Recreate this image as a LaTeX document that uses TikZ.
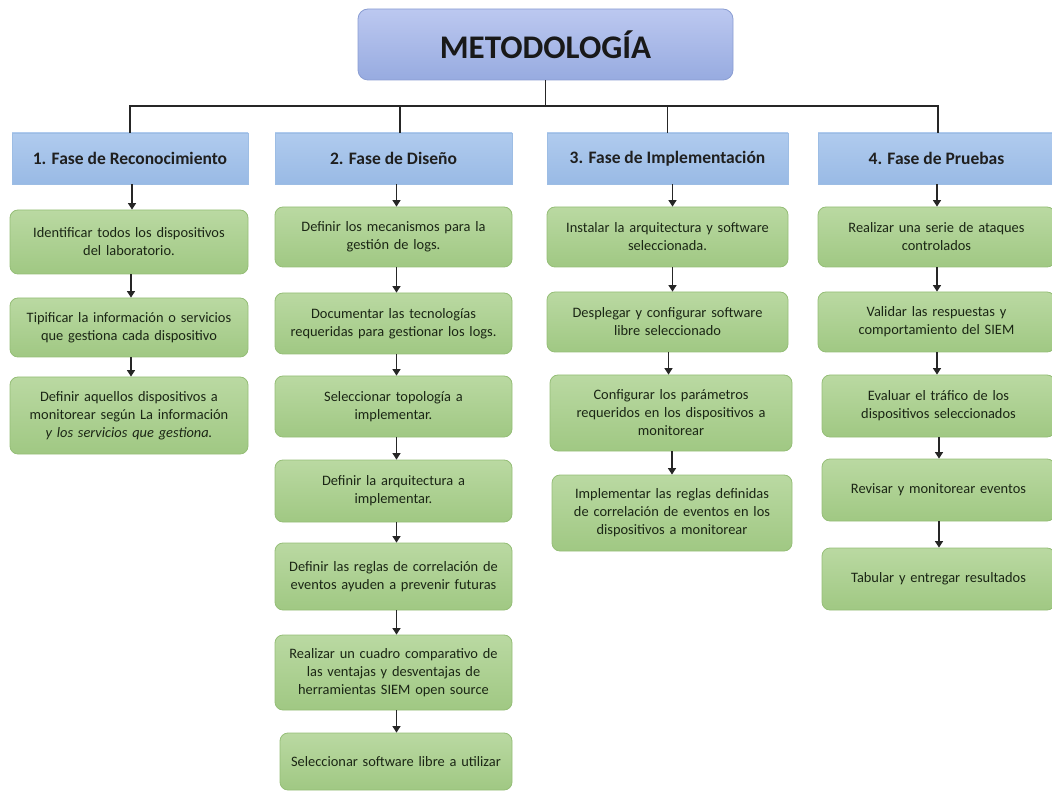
\documentclass[tikz,border=0pt]{standalone}
\usepackage{fontspec}
\setmainfont{Carlito}
\usetikzlibrary{arrows.meta,calc}

\definecolor{titletop}{HTML}{BCC8F0}
\definecolor{titlebot}{HTML}{97ABE0}
\definecolor{titleline}{HTML}{8A9DD2}
\definecolor{phasetop}{HTML}{B0CBEE}
\definecolor{phasebot}{HTML}{99BAE5}
\definecolor{phaseline}{HTML}{9DBDE4}
\definecolor{steptop}{HTML}{BAD9A2}
\definecolor{stepbot}{HTML}{A0C883}
\definecolor{stepline}{HTML}{95BE77}
\definecolor{steptext}{HTML}{1B2615}

\tikzset{
  titlebox/.style={rounded corners=10pt, draw=titleline, line width=0.8pt,
    top color=titletop, bottom color=titlebot,
    minimum width=375pt, minimum height=71pt,
    font=\fontsize{33}{38}\selectfont\bfseries, text=black!90},
  phasebox/.style={rectangle, draw=phaseline, line width=0.8pt,
    top color=phasetop, bottom color=phasebot,
    minimum height=51pt, font=\fontsize{17.5}{20}\selectfont\bfseries,
    text=black!88},
  stepbox/.style={rounded corners=8pt, draw=stepline, line width=0.8pt,
    top color=steptop, bottom color=stepbot, align=center,
    text width=#1-14pt, minimum width=#1,
    font=\fontsize{14.4}{18}\selectfont, text=steptext},
  stepbox/.default=238pt,
  link/.style={line width=1.6pt, black!85},
  flow/.style={line width=1.4pt, black!85,
    -{Triangle[length=6.5pt,width=8pt]}},
}

\begin{document}
\begin{tikzpicture}[x=1pt,y=1pt]
\useasboundingbox (0,0) rectangle (1052,-791);

% title
\node[titlebox] (title) at (545.5,-44.5) {METODOLOGÍA};

% phase headers
\node[phasebox, minimum width=236pt] (h1) at (130,-158.5) {1. Fase de Reconocimiento};
\node[phasebox, minimum width=237pt] (h2) at (393.5,-158.5) {2. Fase de Diseño};
\node[phasebox, minimum width=241pt] (h3) at (667.5,-158.5) {3. Fase de Implementación};
\node[phasebox, minimum width=237pt] (h4) at (936.5,-158.5) {4. Fase de Pruebas};

% tree connectors
\coordinate (bus) at (0,-106);
\draw[link] (title.south) -- (title.south |- bus);
\draw[link] (h1.north) |- ([xshift=1.5pt]h4.north |- bus) -- ([xshift=1.5pt]h4.north);
\draw[link] ([xshift=6.5pt]h2.north) -- ([xshift=6.5pt]h2.north |- bus);
\draw[link] (h3.north) -- (h3.north |- bus);

% column 1
\node[stepbox, minimum height=64pt] (a1) at (129,-242) {Identificar todos los dispositivos\\ del laboratorio.};
\node[stepbox, minimum height=59pt] (a2) at (129,-327.5) {Tipificar la información o servicios\\ que gestiona cada dispositivo};
\node[stepbox, minimum height=77pt] (a3) at (129,-415.5) {Definir aquellos dispositivos a\\ monitorear según La información\\ \textit{y los servicios que gestiona.}};

% column 2
\node[stepbox=237pt, minimum height=60pt] (b1) at (393.5,-237) {Definir los mecanismos para la\\ gestión de logs.};
\node[stepbox=237pt, minimum height=61pt] (b2) at (393.5,-323.5) {Documentar las tecnologías\\ requeridas para gestionar los logs.};
\node[stepbox=237pt, minimum height=61pt] (b3) at (393.5,-406.5) {Seleccionar topología a\\ implementar.};
\node[stepbox=237pt, minimum height=62pt] (b4) at (393.5,-491) {Definir la arquitectura a\\ implementar.};
\node[stepbox=237pt, minimum height=67pt] (b5) at (393.5,-576.5) {Definir las reglas de correlación de\\ eventos ayuden a prevenir futuras};
\node[stepbox=237pt, minimum height=75pt] (b6) at (393.5,-672.5) {Realizar un cuadro comparativo de\\ las ventajas y desventajas de\\ herramientas SIEM open source};
\node[stepbox=232pt, minimum height=57pt] (b7) at (396,-761.5) {Seleccionar software libre a utilizar};

% column 3
\node[stepbox=241pt, minimum height=60pt] (c1) at (667.5,-237) {Instalar la arquitectura y software\\ seleccionada.};
\node[stepbox=241pt, minimum height=60pt] (c2) at (667.5,-322) {Desplegar y configurar software\\ libre seleccionado};
\node[stepbox=242pt, minimum height=76pt] (c3) at (671,-413) {Configurar los parámetros\\ requeridos en los dispositivos a\\ monitorear};
\node[stepbox=240pt, minimum height=76pt] (c4) at (672,-513) {Implementar las reglas definidas\\ de correlación de eventos en los\\ dispositivos a monitorear};

% column 4
\node[stepbox=237pt, minimum height=60pt] (d1) at (936.5,-237) {Realizar una serie de ataques\\ controlados};
\node[stepbox=237pt, minimum height=60pt] (d2) at (936.5,-322) {Validar las respuestas y\\ comportamiento del SIEM};
\node[stepbox=233pt, minimum height=62pt] (d3) at (938.5,-406) {Evaluar el tráfico de los\\ dispositivos seleccionados};
\node[stepbox=233pt, minimum height=62pt] (d4) at (938.5,-490) {Revisar y monitorear eventos};
\node[stepbox=233pt, minimum height=62pt] (d5) at (938.5,-579) {Tabular y entregar resultados};

% flow arrows
\foreach \u/\v in {h1/a1,a1/a2,a2/a3}
  \draw[flow] ([xshift=2pt]\u.south) -- ([xshift=2pt]\u.south |- \v.north);
\foreach \u/\v in {h2/b1,b1/b2,b2/b3,b3/b4,b4/b5,b5/b6,b6/b7}
  \draw[flow] ([xshift=3pt]\u.south) -- ([xshift=3pt]\u.south |- \v.north);
\foreach \u/\v in {h3/c1,c1/c2}
  \draw[flow] ([xshift=5pt]\u.south) -- ([xshift=5pt]\u.south |- \v.north);
\foreach \u/\v in {c2/c3,c3/c4}
  \draw[flow] ([xshift=1pt]\u.south) -- ([xshift=1pt]\u.south |- \v.north);
\foreach \u/\v in {h4/d1,d1/d2,d2/d3,d3/d4,d4/d5}
  \draw[flow] ([xshift=0.5pt]\u.south) -- ([xshift=0.5pt]\u.south |- \v.north);
\end{tikzpicture}
\end{document}
